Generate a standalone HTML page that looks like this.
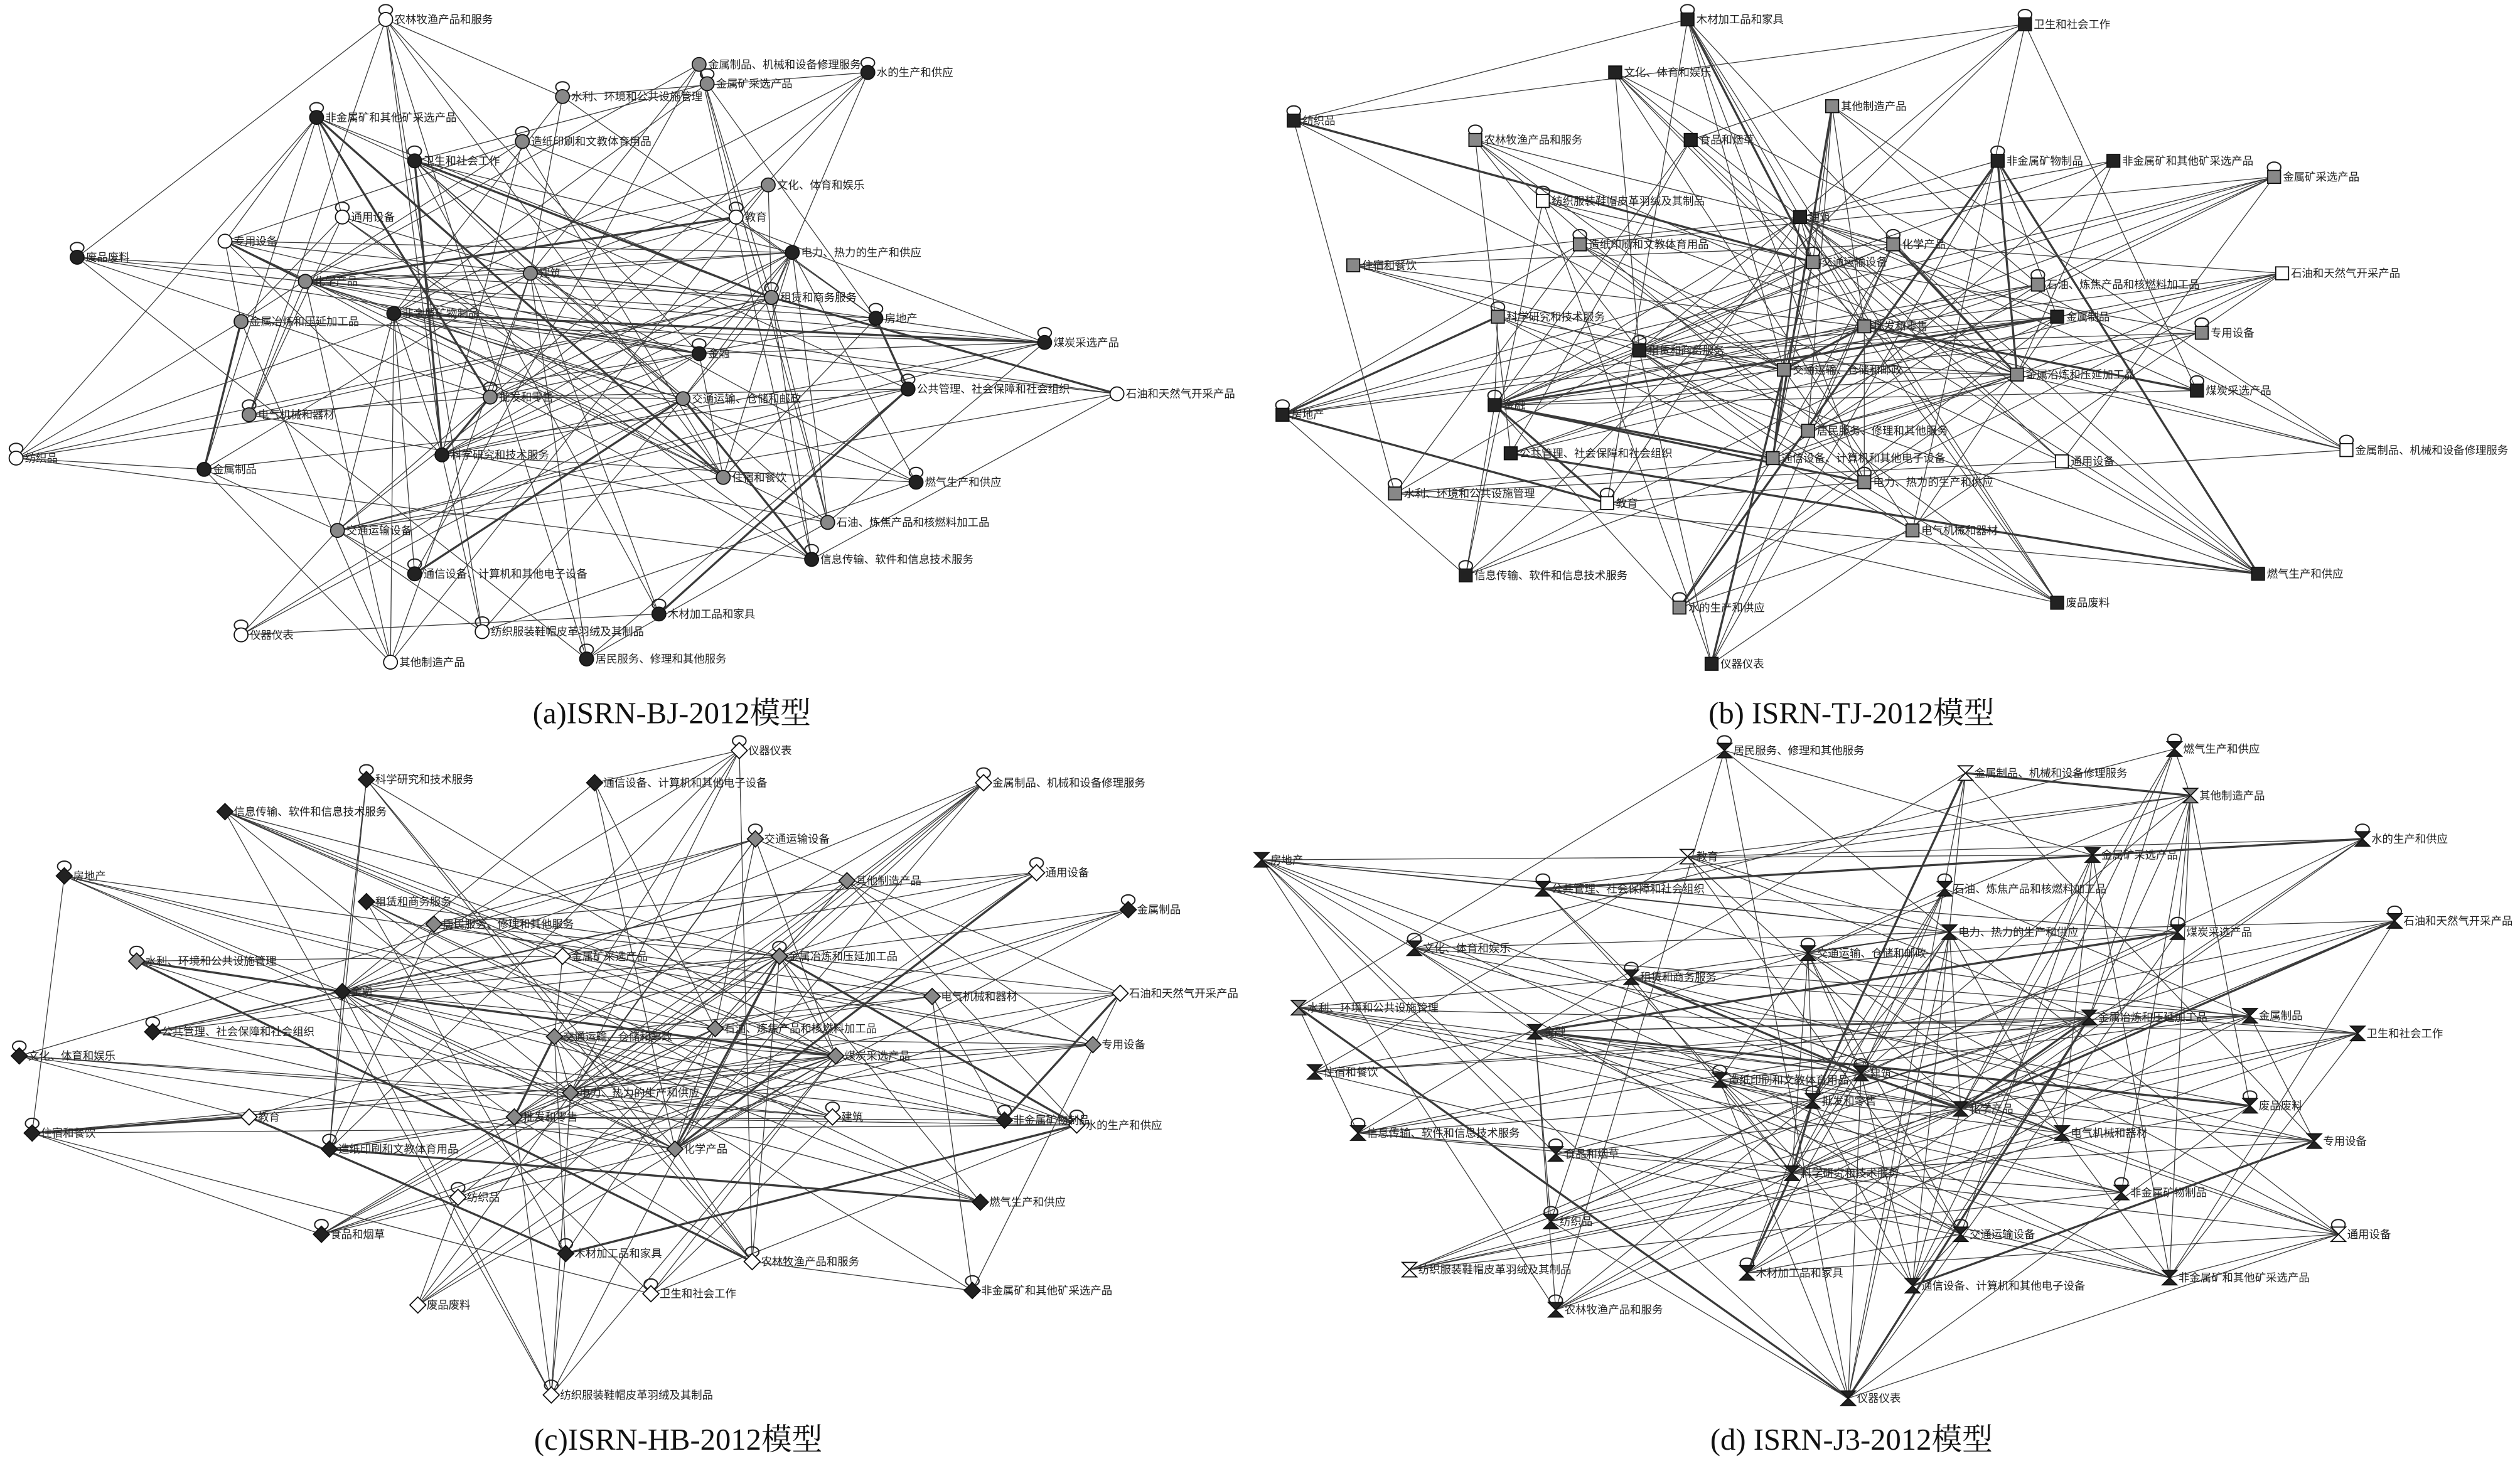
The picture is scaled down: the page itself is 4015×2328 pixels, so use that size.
<!DOCTYPE html>
<html><head><meta charset="utf-8">
<style>
html,body{margin:0;padding:0;background:#fff;}
svg{display:block;}
.lb{font-family:"Liberation Sans","Noto Sans CJK SC",sans-serif;font-size:6.8px;fill:#222;}
.cap{font-family:"Liberation Serif","Noto Serif CJK SC",serif;font-size:19px;fill:#111;}
</style></head>
<body>
<svg id="s" width="4015" height="2328" viewBox="0 0 1568 909" xmlns="http://www.w3.org/2000/svg">
<rect width="1568" height="909" fill="#fff"/>
<g id="edges" stroke="#3a3a3a" fill="none"></g>
<g id="nodes"></g>
<g id="labels"></g>
<text class="cap" x="418" y="450" text-anchor="middle">(a)ISRN-BJ-2012模型</text>
<text class="cap" x="1152" y="450" text-anchor="middle">(b) ISRN-TJ-2012模型</text>
<text class="cap" x="422" y="902" text-anchor="middle">(c)ISRN-HB-2012模型</text>
<text class="cap" x="1152" y="902" text-anchor="middle">(d) ISRN-J3-2012模型</text>
</svg>
<script>
var W="#fff",G="#888",D="#222";
var P=[
{shape:"c",hubs:["金融","建筑","批发和零售","交通运输、仓储和邮政","化学产品","租赁和商务服务","科学研究和技术服务","非金属矿物制品","电力、热力的生产和供应"],n:[
["农林牧渔产品和服务",240,12,W],["金属制品、机械和设备修理服务",435,40,G],["金属矿采选产品",440,52,G],["水的生产和供应",540,45,D],["水利、环境和公共设施管理",350,60,G],["非金属矿和其他矿采选产品",197,73,D],["造纸印刷和文教体育用品",325,88,G],["卫生和社会工作",258,100,D],["通用设备",213,135,W],["文化、体育和娱乐",478,115,G],["教育",458,135,W],["专用设备",140,150,W],["电力、热力的生产和供应",493,157,D],["废品废料",48,160,D],["化学产品",190,175,G],["建筑",330,170,G],["金属冶炼和压延加工品",150,200,G],["非金属矿物制品",245,195,D],["租赁和商务服务",480,185,G],["房地产",545,198,D],["煤炭采选产品",650,213,D],["金融",435,220,D],["公共管理、社会保障和社会组织",565,242,D],["石油和天然气开采产品",695,245,W],["批发和零售",305,247,G],["交通运输、仓储和邮政",425,248,G],["电气机械和器材",155,258,G],["科学研究和技术服务",275,283,D],["住宿和餐饮",450,297,G],["纺织品",10,285,W],["金属制品",127,292,D],["燃气生产和供应",570,300,D],["交通运输设备",210,330,G],["石油、炼焦产品和核燃料加工品",515,325,G],["通信设备、计算机和其他电子设备",258,357,D],["信息传输、软件和信息技术服务",505,348,D],["木材加工品和家具",410,382,D],["仪器仪表",150,395,W],["纺织服装鞋帽皮革羽绒及其制品",300,393,W],["其他制造产品",243,412,W],["居民服务、修理和其他服务",365,410,D]]},
{shape:"s",hubs:["建筑","化学产品","交通运输设备","交通运输、仓储和邮政","金属冶炼和压延加工品","租赁和商务服务","金融","批发和零售","通信设备、计算机和其他电子设备"],n:[
["木材加工品和家具",1050,12,D],["卫生和社会工作",1260,15,D],["文化、体育和娱乐",1005,45,D],["其他制造产品",1140,66,G],["纺织品",805,75,D],["农林牧渔产品和服务",918,87,G],["食品和烟草",1052,87,D],["非金属矿物制品",1243,100,D],["非金属矿和其他矿采选产品",1315,100,D],["金属矿采选产品",1415,110,G],["纺织服装鞋帽皮革羽绒及其制品",960,125,W],["建筑",1120,135,D],["造纸印刷和文教体育用品",983,152,G],["化学产品",1178,152,G],["住宿和餐饮",842,165,G],["交通运输设备",1128,163,G],["石油、炼焦产品和核燃料加工品",1268,177,G],["石油和天然气开采产品",1420,170,W],["金属制品",1280,197,D],["科学研究和技术服务",932,197,G],["批发和零售",1160,203,G],["专用设备",1370,207,G],["租赁和商务服务",1020,218,D],["交通运输、仓储和邮政",1110,230,G],["金属冶炼和压延加工品",1255,233,G],["煤炭采选产品",1367,243,D],["金融",930,252,D],["房地产",798,258,D],["居民服务、修理和其他服务",1125,268,G],["金属制品、机械和设备修理服务",1460,280,W],["公共管理、社会保障和社会组织",940,282,D],["通用设备",1283,287,W],["通信设备、计算机和其他电子设备",1103,285,G],["电力、热力的生产和供应",1160,300,G],["水利、环境和公共设施管理",868,307,G],["教育",1000,313,W],["电气机械和器材",1190,330,G],["信息传输、软件和信息技术服务",912,358,D],["燃气生产和供应",1405,357,D],["水的生产和供应",1045,378,G],["废品废料",1280,375,D],["仪器仪表",1065,413,D]]},
{shape:"d",hubs:["金融","金属冶炼和压延加工品","交通运输、仓储和邮政","石油、炼焦产品和核燃料加工品","化学产品","煤炭采选产品","批发和零售","电力、热力的生产和供应"],n:[
["仪器仪表",460,467,W],["科学研究和技术服务",228,485,D],["通信设备、计算机和其他电子设备",370,487,D],["金属制品、机械和设备修理服务",612,487,W],["信息传输、软件和信息技术服务",140,505,D],["交通运输设备",470,522,G],["其他制造产品",527,548,G],["通用设备",645,543,W],["房地产",40,545,D],["租赁和商务服务",228,561,D],["金属制品",702,566,D],["居民服务、修理和其他服务",270,575,G],["水利、环境和公共设施管理",85,598,G],["金属矿采选产品",350,595,W],["金属冶炼和压延加工品",485,595,G],["金融",213,617,D],["电气机械和器材",580,620,G],["石油和天然气开采产品",697,618,W],["石油、炼焦产品和核燃料加工品",445,640,G],["公共管理、社会保障和社会组织",95,642,D],["交通运输、仓储和邮政",345,645,G],["煤炭采选产品",520,657,G],["专用设备",680,650,G],["文化、体育和娱乐",12,657,D],["电力、热力的生产和供应",355,680,G],["教育",155,695,W],["批发和零售",320,695,G],["建筑",518,695,W],["非金属矿物制品",625,697,D],["水的生产和供应",670,700,W],["住宿和餐饮",20,705,D],["造纸印刷和文教体育用品",205,715,D],["化学产品",420,715,G],["纺织品",285,745,W],["燃气生产和供应",610,748,D],["食品和烟草",200,768,D],["木材加工品和家具",352,780,D],["农林牧渔产品和服务",468,785,W],["废品废料",260,812,W],["卫生和社会工作",405,805,W],["非金属矿和其他矿采选产品",605,803,D],["纺织服装鞋帽皮革羽绒及其制品",343,868,W]]},
{shape:"t",hubs:["化学产品","金属冶炼和压延加工品","交通运输、仓储和邮政","金融","科学研究和技术服务","建筑","电力、热力的生产和供应","批发和零售"],n:[
["居民服务、修理和其他服务",1073,467,D],["燃气生产和供应",1353,466,D],["金属制品、机械和设备修理服务",1223,481,W],["其他制造产品",1363,495,G],["房地产",785,535,D],["教育",1050,533,W],["公共管理、社会保障和社会组织",960,553,D],["金属矿采选产品",1302,532,D],["水的生产和供应",1470,522,D],["石油、炼焦产品和核燃料加工品",1210,553,D],["电力、热力的生产和供应",1213,580,D],["煤炭采选产品",1355,580,D],["石油和天然气开采产品",1490,573,D],["文化、体育和娱乐",880,590,D],["交通运输、仓储和邮政",1125,593,D],["租赁和商务服务",1015,608,D],["水利、环境和公共设施管理",808,627,G],["金属冶炼和压延加工品",1300,633,D],["金属制品",1400,632,D],["金融",955,642,D],["卫生和社会工作",1467,643,D],["造纸印刷和文教体育用品",1070,672,D],["住宿和餐饮",818,667,D],["建筑",1158,668,D],["批发和零售",1128,685,D],["废品废料",1400,688,D],["化学产品",1220,690,D],["信息传输、软件和信息技术服务",845,705,D],["电气机械和器材",1283,705,D],["食品和烟草",968,718,D],["专用设备",1440,710,D],["科学研究和技术服务",1115,730,D],["非金属矿物制品",1320,742,D],["纺织品",965,760,D],["交通运输设备",1220,768,D],["通用设备",1455,768,W],["纺织服装鞋帽皮革羽绒及其制品",877,790,W],["木材加工品和家具",1087,792,D],["非金属矿和其他矿采选产品",1350,795,D],["通信设备、计算机和其他电子设备",1190,800,D],["农林牧渔产品和服务",968,815,D],["仪器仪表",1150,870,D]]}
];
var seed=12345;function r(){seed=(seed*1103515245+12345)%2147483648;return seed/2147483648;}
var NS="http://www.w3.org/2000/svg";
function el(t,a,p){var e=document.createElementNS(NS,t);for(var k in a)e.setAttribute(k,a[k]);p.appendChild(e);return e;}
var E=document.getElementById("edges"),N=document.getElementById("nodes"),L=document.getElementById("labels");
P.forEach(function(p){
 var n=p.n,hi=[];n.forEach(function(d,i){if(p.hubs.indexOf(d[0])>=0)hi.push(i);});
 var seen={};
 function add(a,b,w){if(a==b)return;var k=a<b?a+"_"+b:b+"_"+a;if(seen[k])return;seen[k]=1;
  el("line",{x1:n[a][1],y1:n[a][2],x2:n[b][1],y2:n[b][2],"stroke-width":w},E);}
 n.forEach(function(d,i){
  var k=4+Math.floor(r()*2);
  for(var j=0;j<k;j++){var t=r()<0.45?hi[Math.floor(r()*hi.length)]:Math.floor(r()*n.length);add(i,t,r()<0.08?1.3:0.5);}
 });
 for(var a=0;a<hi.length;a++)for(var b=a+1;b<hi.length;b++)if(r()<0.5)add(hi[a],hi[b],r()<0.25?1.3:0.5);
 n.forEach(function(d){
  var x=d[1],y=d[2];
  if(r()<0.6)el("ellipse",{cx:x,cy:y-6,rx:4.2,ry:3.2,fill:"none",stroke:"#222","stroke-width":0.8},N);
  var at={fill:d[3],stroke:"#111","stroke-width":0.7};
  if(p.shape=="c"){at.cx=x;at.cy=y;at.r=4.3;el("circle",at,N);}
  else if(p.shape=="s"){at.x=x-4;at.y=y-4;at.width=8;at.height=8;el("rect",at,N);}
  else if(p.shape=="d"){at.points=(x)+","+(y-5)+" "+(x+5)+","+y+" "+x+","+(y+5)+" "+(x-5)+","+y;el("polygon",at,N);}
  else {at.points=(x-4.5)+","+(y-4.5)+" "+(x+4.5)+","+(y-4.5)+" "+(x-4.5)+","+(y+4.5)+" "+(x+4.5)+","+(y+4.5);el("polygon",at,N);}
  var t=el("text",{x:x+5.5,y:y+2.4,"class":"lb"},L);t.textContent=d[0];
 });
});
</script>
</body></html>
